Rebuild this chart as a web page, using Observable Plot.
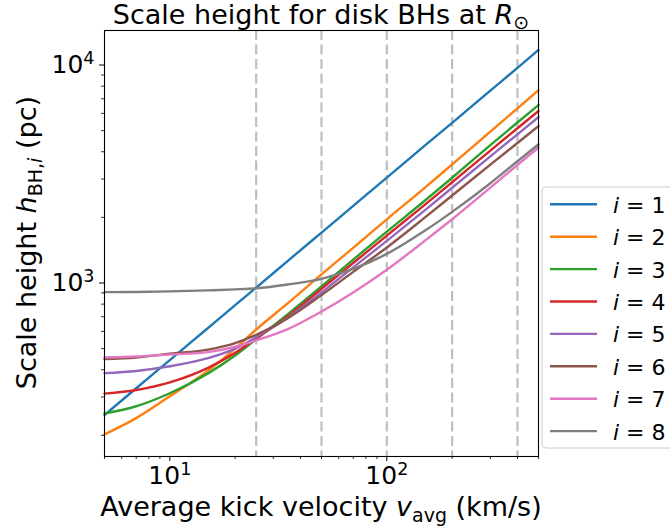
<!DOCTYPE html>
<html>
<head>
<meta charset="utf-8">
<script src="https://cdn.jsdelivr.net/npm/d3@7"></script>
<script src="https://cdn.jsdelivr.net/npm/@observablehq/plot@0.6"></script>
<style>
  html, body { margin: 0; padding: 0; background: #fff; overflow: hidden; }
  #chart svg { display: block; }
</style>
</head>
<body>
<div id="chart"></div>
<script>
// ---- data ----
const velocity = [5, 7, 10, 15, 20, 25, 35, 50, 70, 100, 150, 200, 300, 400, 500];
const h_i1 = [248, 329, 443, 622, 791, 952, 1264, 1704, 2258, 3045, 4276, 5430, 7632, 9700, 11730];
const h_i2 = [202, 240, 302, 396, 500, 612, 808, 1095, 1450, 1960, 2740, 3500, 4950, 6330, 7660];
const h_i3 = [252, 272, 312, 385, 465, 553, 720, 965, 1280, 1720, 2390, 3040, 4290, 5450, 6555];
const h_i4 = [311, 323, 350, 408, 478, 555, 705, 940, 1235, 1650, 2290, 2900, 4050, 5130, 6150];
const h_i5 = [386, 395, 415, 452, 500, 564, 695, 905, 1180, 1560, 2160, 2735, 3810, 4810, 5770];
const h_i6 = [448, 455, 474, 495, 530, 578, 690, 880, 1125, 1455, 2000, 2520, 3490, 4390, 5245];
const h_i7 = [455, 460, 470, 482, 510, 546, 615, 740, 905, 1150, 1565, 1960, 2740, 3480, 4180];
const h_i8 = [908, 910, 915, 925, 935, 946, 985, 1045, 1160, 1360, 1740, 2120, 2870, 3620, 4325];

const seriesIndex = ["1", "2", "3", "4", "5", "6", "7", "8"];
const seriesColors = ["#1f77b4", "#ff7f0e", "#2ca02c", "#d62728", "#9467bd", "#8c564b", "#e377c2", "#7f7f7f"];
const dashedVelocities = [25, 50, 100, 200, 400];

const xMajorTicks = [10, 100];
const xMinorTicks = [5, 6, 7, 8, 9, 20, 30, 40, 50, 60, 70, 80, 90, 200, 300, 400, 500];
const yMajorTicks = [1000, 10000];
const yMinorTicks = [200, 300, 400, 500, 600, 700, 800, 900, 2000, 3000, 4000, 5000, 6000, 7000, 8000, 9000];

const titleText = "Scale height for disk BHs at ";
const xLabelText = "Average kick velocity ";
const yLabelText = "Scale height ";

// ---- build table ----
const series = [h_i1, h_i2, h_i3, h_i4, h_i5, h_i6, h_i7, h_i8];
const rows = series.flatMap((vals, k) =>
  velocity.map((v, j) => ({ v, h: vals[j], i: seriesIndex[k] }))
);

const FONT = "DejaVu Sans";
const powFmt = d => "10^" + Math.round(Math.log10(d));

const lineMarks = seriesIndex.map((lab, k) =>
  Plot.line(rows.filter(r => r.i === lab), {
    x: "v", y: "h", stroke: seriesColors[k], strokeWidth: 2.4, curve: "monotone-x"
  })
);

const svg = Plot.plot({
  width: 670,
  height: 527,
  marginLeft: 104,
  marginRight: 132,
  marginTop: 30,
  marginBottom: 71,
  style: { fontFamily: FONT, fontSize: "25px", background: "white", color: "black", overflow: "visible" },
  x: { type: "log", domain: [5, 500] },
  y: { type: "log", domain: [160, 14400] },
  marks: [
    Plot.ruleX(dashedVelocities, { stroke: "#bfbfbf", strokeWidth: 2.2, strokeDasharray: "10,4.5" }),
    ...lineMarks,
    Plot.axisX(xMinorTicks, { tickSize: 3, strokeWidth: 0.8, tickFormat: () => "", label: null }),
    Plot.axisX(xMajorTicks, { tickSize: 5, strokeWidth: 1, tickPadding: 5, tickFormat: powFmt, label: null, fontSize: 25 }),
    Plot.axisY(yMinorTicks, { tickSize: 3, strokeWidth: 0.8, tickFormat: () => "", label: null }),
    Plot.axisY(yMajorTicks, { tickSize: 5, strokeWidth: 1, tickPadding: 5, tickFormat: powFmt, label: null, fontSize: 25 }),
    Plot.frame({ stroke: "black", strokeWidth: 1.1 })
  ]
});
document.getElementById("chart").append(svg);

const root = d3.select(svg);

// superscript exponents on tick labels
root.selectAll("text").each(function () {
  const m = (this.textContent || "").match(/^10\^(\d+)$/);
  if (m) {
    const s = d3.select(this);
    s.text("10");
    s.append("tspan").attr("dy", -9).attr("font-size", 17.5).text(m[1]);
  }
});

function rich(parent, parts, attrs) {
  const t = parent.append("text");
  for (const [k, v] of Object.entries(attrs)) t.attr(k, v);
  let shift = 0;
  for (const p of parts) {
    const s = t.append("tspan").text(p.t);
    const target = p.dy || 0;
    if (target !== shift) s.attr("dy", target - shift);
    shift = target;
    if (p.it) s.attr("font-style", "italic");
    if (p.fs) s.attr("font-size", p.fs);
  }
  return t;
}

const cx = 321;
// title
rich(root, [
  { t: titleText },
  { t: "R", it: true },
  { t: "⊙", fs: 19, dy: 5 }
], { x: cx, y: 24, "text-anchor": "middle", "font-size": 27, "font-family": FONT, fill: "black" });

// x label
rich(root, [
  { t: xLabelText },
  { t: "v", it: true },
  { t: "avg", fs: 19, dy: 6 },
  { t: " (km/s)", dy: 0 }
], { x: cx, y: 516, "text-anchor": "middle", "font-size": 27, "font-family": FONT, fill: "black" });

// y label
const yg = root.append("g").attr("transform", "translate(36,242.6) rotate(-90)");
rich(yg, [
  { t: yLabelText },
  { t: "h", it: true },
  { t: "BH,", fs: 19, dy: 6 },
  { t: "i", it: true, fs: 19, dy: 6 },
  { t: " (pc)", dy: 0 }
], { x: 0, y: 0, "text-anchor": "middle", "font-size": 27, "font-family": FONT, fill: "black" });

// legend
const lg = root.append("g").attr("font-family", FONT).attr("font-size", 22).attr("text-anchor", "start");
lg.append("rect")
  .attr("x", 542).attr("y", 187).attr("width", 150).attr("height", 261).attr("rx", 4)
  .attr("fill", "white").attr("fill-opacity", 0.8).attr("stroke", "#cccccc").attr("stroke-width", 1);
seriesIndex.forEach((lab, k) => {
  const yc = 204.3 + k * 32.4;
  lg.append("line").attr("x1", 550).attr("x2", 597).attr("y1", yc).attr("y2", yc)
    .attr("stroke", seriesColors[k]).attr("stroke-width", 2.4);
  const t = lg.append("text").attr("x", 613).attr("y", yc + 8.5).attr("fill", "black").attr("text-anchor", "start");
  t.append("tspan").attr("font-style", "italic").text("i");
  t.append("tspan").text(" = " + lab);
});
</script>
</body>
</html>
